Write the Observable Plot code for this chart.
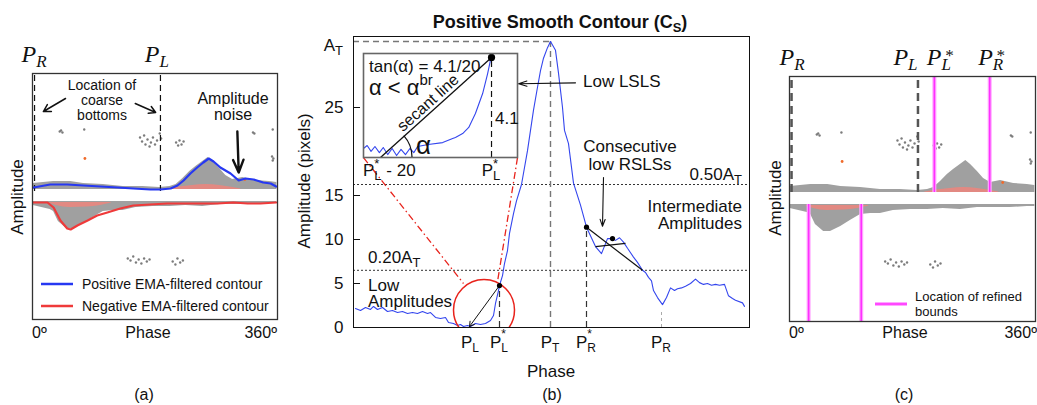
<!DOCTYPE html>
<html><head><meta charset="utf-8">
<script src="https://cdn.jsdelivr.net/npm/d3@7"></script>
<script src="https://cdn.jsdelivr.net/npm/@observablehq/plot@0.6"></script>
<style>
body{margin:0;background:#fff;width:1037px;height:405px;overflow:hidden;position:relative}
.p{position:absolute;top:0}
</style>
</head><body>
<div id="pa" class="p" style="left:0"></div>
<div id="pb" class="p" style="left:290px"></div>
<div id="pc" class="p" style="left:760px"></div>
<div id="pi" class="p" style="left:363px;top:53px"></div>
<script>
const SANS = "'Liberation Sans', Arial, Helvetica, sans-serif";
const SERIF = "'Liberation Serif', 'Times New Roman', serif";

// ---------------- Panels (a) and (c): phase in degrees, amplitude in px units ----------------
const contourPosPhase = [1.5,26,51,75,100,125,148,173,188,203,213,222,232,242,251,259,266,276,291,303,313,325,339,350,358];
const contourPosAmp   = [2,5,5,4,3,2,1,0,0,1,4,9,16,22,27,31,28,22,16,9,11,10,7,6,3];
const contourNegPhase = [1.5,22,31,41,51,56,66,81,95,110,129,148,173,198,222,247,272,295,316,335,358];
const contourNegAmp   = [1,1,6,19,27,28,24,19,14,11,7,4,3,2,2,2,2,1,2,2,1];
const cloudPosPhase = [1,31,56,75,104,133,162,187,202,211,221,231,240,250,258,265,275,284,294,309,328,348,359];
const cloudPosAmp   = [6,8,8,6,5,3,3,2,3,5,11,18,23,28,32,28,21,14,10,12,9,8,7];
const cloudNegPhase = [1,26,31,38,50,60,75,89,104,119,133,152,177,202,225,250,275,299,323,348,359];
const cloudNegAmp   = [4,8,10,20,27,27,22,16,10,9,9,6,5,5,4,5,3,3,3,2,2];
const pinkPosPhase = [198,215,235,255,275,295,306];
const pinkPosAmp   = [0.5,2.5,4,5,4,2,0.5];
const pinkNegPhase = [24,35,55,80,100,116];
const pinkNegAmp   = [1.5,4,6,5.5,4,1.5];
const speckPosPhase = [42,44,40,76,158,161,164,166,169,172,174,177,180,183,187,189,211,214,216,219,222,324,326,353,352,354,353];
const speckPosAmp   = [59,57,58,60,52,48,54,45,50,43,47,52,45,49,56,51,47,44,49,45,48,57,56,60,33,31,29];
const speckNegPhase = [140,144,148,152,156,160,164,168,172,206,210,213,217,221];
const speckNegAmp   = [57,59,55,61,58,62,57,60,58,60,63,57,61,59];
const orangePhase = [77,312];
const orangeAmp   = [31,10];
const coarseBounds = {PR: 3, PL: 188};
const refinedPos = [212, 293];   // P_L*, P_R*
const refinedNeg = [28, 105];

// ---------------- Panel (b): smooth positive contour ----------------
const bPhase = [2,7,12,17,20,24,29,34,39,44,49,54,59,64,69,74,77,82,87,92,95,100,104,107,110,114,117,122,127,132,137,140,142,145,146,149,151,154,156,160,163,168,174,180,184,187,190,194,197,202,205,209,211,215,220,227,233,242,248,254,259,262,266,270,274,280,284,289,292,295,298,300,304,309,313,317,321,324,328,332,337,342,346,350,354,358,362,366,371,375,379,382,389,391];
const bAmp = [2.16,1.93,2.27,2.05,2.39,2.05,2.27,1.82,1.93,1.7,1.82,1.59,1.7,1.59,1.82,1.59,1.7,1.14,1.02,1.14,0.57,0.45,0.23,0.34,0.11,0.23,0.11,0.45,0.34,0.45,0.8,1.36,2.73,4.2,4.77,5.9,7.27,8.75,10.7,12.95,14.4,16.25,20.1,24.7,27.3,29.2,30.6,31.8,32.5,31.5,28.9,25,22.4,20.9,16.4,13.9,11.4,9.2,8.4,10.1,10.1,9.9,10.2,9.7,9.0,8.0,7.4,6.5,6.25,5.7,5.3,4.2,3.4,2.6,3.4,4.5,4.2,4.4,4.5,4.7,5.0,5.5,5.1,4.9,5.0,4.8,4.9,4.8,4.9,3.6,3.3,3.1,2.8,2.4];
const AT = 32.5;
const levelFractions = [0.5, 0.2];
const yTicks = [0, 5, 10, 15, 25];
const keyNames  = ["L", "L*", "T", "R*", "R"];
const keyPhases = [117, 146, 197, 233, 308];
const PLsAmp = 4.77, PRsAmp = 11.4;
const rslsPoint = {x: 259, y: 10.1};
const lowCircle = {x: 130.5, y: 1.99};

// ---------------- Inset: last 20 samples before P_L* ----------------
const insetOffset = [-23.06,-22.4,-21.7,-21.0,-20.2,-19.5,-18.7,-17.9,-17.1,-16.3,-15.5,-14.7,-14.0,-13.3,-11.4,-8.8,-7.0,-6.5,-5.2,-4.1,-2.9,-1.6,-0.7,-0.2,0];
const insetAmp    = [0.37,0.49,0.25,0.45,0.2,0.41,0.12,0.37,0.08,0.33,0.12,0.37,0.2,0.45,0.53,0.61,0.78,0.82,0.98,1.23,1.8,2.62,3.44,3.98,4.1];
const secantRun = 20, secantRise = 4.1;

// ---------- helpers ----------
const zip = (xs, ys) => xs.map((x, i) => ({x, y: ys[i]}));
function rich(svg, x, y, parts, o = {}) {
  const size = o.size ?? 17;
  const subSize = o.subSize ?? Math.round(size * 0.72);
  const g = d3.select(svg).append("g")
    .attr("font-family", o.family ?? SANS).attr("font-size", size)
    .attr("font-style", o.italic ? "italic" : "normal")
    .attr("font-weight", o.bold ? "bold" : "normal")
    .attr("text-anchor", "start")
    .attr("fill", o.fill ?? "#111");
  let cx = 0;
  for (const p of [].concat(parts)) {
    if (typeof p === "string") {
      const t = g.append("text").attr("x", cx).attr("y", 0).style("white-space", "pre").text(p);
      cx += t.node().getComputedTextLength();
    } else {
      let w = 0;
      if (p.sub != null) {
        const t = g.append("text").attr("x", cx).attr("y", o.subDy ?? size * 0.3).attr("font-size", subSize).text(p.sub);
        w = Math.max(w, t.node().getComputedTextLength());
      }
      if (p.sup != null) {
        const dx = o.supDx ?? 0;
        const t = g.append("text").attr("x", cx + dx).attr("y", -(o.supRise ?? size * 0.42)).attr("font-size", o.supSize ?? subSize).text(p.sup);
        w = Math.max(w, t.node().getComputedTextLength() + dx);
      }
      cx += w;
    }
  }
  const shift = o.anchor === "middle" ? -cx / 2 : o.anchor === "end" ? -cx : 0;
  g.attr("transform", `translate(${x},${y}) rotate(${o.rotate ?? 0}) translate(${shift},0)`);
  return g;
}
function hline(svg, x1, x2, y, color, w) {
  d3.select(svg).append("line").attr("x1", x1).attr("x2", x2).attr("y1", y).attr("y2", y)
    .attr("stroke", color).attr("stroke-width", w);
}

const gap = 12; // visual gap between the positive and negative halves
const cloudPos = zip(cloudPosPhase, cloudPosAmp);
const cloudNeg = zip(cloudNegPhase, cloudNegAmp);
const pinkPos = zip(pinkPosPhase, pinkPosAmp);
const pinkNeg = zip(pinkNegPhase, pinkNegAmp);
const speckPos = zip(speckPosPhase, speckPosAmp);
const speckNeg = zip(speckNegPhase, speckNegAmp);
const orange = zip(orangePhase, orangeAmp);
const GREY = "#a0a0a0", PINK = "#f3837a";
function cloudMarks() {
  return [
    Plot.areaY(cloudPos, {x: "x", y1: 0, y2: "y", fill: GREY}),
    Plot.areaY(cloudNeg, {x: "x", y1: -gap, y2: d => -gap - d.y, fill: GREY}),
    Plot.areaY(pinkPos, {x: "x", y1: 0, y2: "y", fill: PINK, fillOpacity: 0.8, curve: "monotone-x"}),
    Plot.areaY(pinkNeg, {x: "x", y1: -gap - 1, y2: d => -gap - d.y, fill: PINK, fillOpacity: 0.8, curve: "monotone-x"}),
    Plot.dot(speckPos, {x: "x", y: "y", r: 1.2, fill: "#7c7c7c"}),
    Plot.dot(speckNeg, {x: "x", y: d => -gap - d.y, r: 1.2, fill: "#7c7c7c"}),
    Plot.dot(orange, {x: "x", y: "y", r: 1.4, fill: "#f06a2a"})
  ];
}
const baseStyle = {background: "transparent", overflow: "visible", fontFamily: SANS};

// ================= Panel (a) =================
const svgA = Plot.plot({
  width: 290, height: 405, marginLeft: 32, marginRight: 13, marginTop: 73, marginBottom: 86,
  style: baseStyle,
  x: {domain: [0, 360], axis: null}, y: {domain: [-130, 116], axis: null},
  marks: [
    ...cloudMarks(),
    Plot.ruleX([coarseBounds.PR, coarseBounds.PL], {y1: -2, y2: 116, stroke: "#111", strokeWidth: 1.2, strokeDasharray: "6,4"}),
    Plot.line(zip(contourPosPhase, contourPosAmp), {x: "x", y: "y", stroke: "#2638f2", strokeWidth: 2.2}),
    Plot.line(zip(contourNegPhase, contourNegAmp), {x: "x", y: d => -gap - d.y, stroke: "#ef3a3a", strokeWidth: 2.2}),
    Plot.frame({stroke: "#333", strokeWidth: 1.3}),
    Plot.arrow([{x1: 48.5, y1: 91, x2: 16, y2: 78}, {x1: 151, y1: 86, x2: 181, y2: 77}],
      {x1: "x1", y1: "y1", x2: "x2", y2: "y2", stroke: "#111", strokeWidth: 1.5, headLength: 8}),
    Plot.arrow([{x1: 301, y1: 58, x2: 303, y2: 17}],
      {x1: "x1", y1: "y1", x2: "x2", y2: "y2", stroke: "#111", strokeWidth: 2.4, headLength: 13, headAngle: 45})
  ]
});
document.getElementById("pa").append(svgA);
{
  const sx = svgA.scale("x");
  const pOpt = {family: SERIF, italic: true, size: 24, subSize: 17, subDy: 5, anchor: "middle"};
  rich(svgA, sx.apply(coarseBounds.PR), 62, ["P", {sub: "R"}], pOpt);
  rich(svgA, sx.apply(coarseBounds.PL) - 3, 62, ["P", {sub: "L"}], pOpt);
  rich(svgA, 102, 90, "Location of", {size: 14, anchor: "middle"});
  rich(svgA, 102, 105, "coarse", {size: 14, anchor: "middle"});
  rich(svgA, 102, 120, "bottoms", {size: 14, anchor: "middle"});
  rich(svgA, 233, 104, "Amplitude", {size: 16, anchor: "middle"});
  rich(svgA, 233, 120, "noise", {size: 16, anchor: "middle"});
  hline(svgA, 41, 73, 284, "#2638f2", 2.5);
  hline(svgA, 41, 73, 306, "#ef3a3a", 2.5);
  rich(svgA, 82, 289, "Positive EMA-filtered contour", {size: 14});
  rich(svgA, 82, 311, "Negative EMA-filtered contour", {size: 14});
  rich(svgA, 32, 338, "0º", {size: 16});
  rich(svgA, 148, 338, "Phase", {size: 16, anchor: "middle"});
  rich(svgA, 277, 338, "360º", {size: 16, anchor: "end"});
  rich(svgA, 23, 197, "Amplitude", {size: 17, anchor: "middle", rotate: -90});
  rich(svgA, 144, 400, "(a)", {size: 16, anchor: "middle"});
}

// ================= Panel (c) =================
const svgC = Plot.plot({
  width: 277, height: 405, marginLeft: 29, marginRight: 2, marginTop: 76, marginBottom: 84,
  style: baseStyle,
  x: {domain: [0, 360], axis: null}, y: {domain: [-129, 116], axis: null},
  marks: [
    ...cloudMarks(),
    Plot.ruleX([coarseBounds.PR, coarseBounds.PL], {y1: 0, y2: 116, stroke: "#555", strokeWidth: 2.5, strokeDasharray: "8,5"}),
    Plot.ruleX(refinedPos, {y1: 0, y2: 116, stroke: "#ffa6ff", strokeWidth: 4}),
    Plot.ruleX(refinedPos, {y1: 0, y2: 116, stroke: "#ff30ff", strokeWidth: 1.6}),
    Plot.ruleX(refinedNeg, {y1: -gap, y2: -129, stroke: "#ffa6ff", strokeWidth: 4}),
    Plot.ruleX(refinedNeg, {y1: -gap, y2: -129, stroke: "#ff30ff", strokeWidth: 1.6}),
    Plot.frame({stroke: "#333", strokeWidth: 1.3})
  ]
});
document.getElementById("pc").append(svgC);
{
  const sx = svgC.scale("x");
  const pOpt = {family: SERIF, italic: true, size: 24, subSize: 17, subDy: 5, anchor: "middle", supSize: 17, supRise: 4, supDx: 3};
  rich(svgC, sx.apply(coarseBounds.PR) + 1, 65, ["P", {sub: "R"}], pOpt);
  rich(svgC, sx.apply(coarseBounds.PL) - 12, 65, ["P", {sub: "L"}], pOpt);
  rich(svgC, sx.apply(refinedPos[0]) + 6, 65, ["P", {sub: "L", sup: "*"}], pOpt);
  rich(svgC, sx.apply(refinedPos[1]) + 2, 65, ["P", {sub: "R", sup: "*"}], pOpt);
  d3.select(svgC).append("line").attr("x1", 115).attr("x2", 147).attr("y1", 304).attr("y2", 304).attr("stroke", "#ffa6ff").attr("stroke-width", 4);
  hline(svgC, 115, 147, 304, "#ff30ff", 1.6);
  rich(svgC, 155, 301, "Location of refined", {size: 13});
  rich(svgC, 155, 316, "bounds", {size: 13});
  rich(svgC, 29, 338, "0º", {size: 16});
  rich(svgC, 145, 338, "Phase", {size: 16, anchor: "middle"});
  rich(svgC, 277, 338, "360º", {size: 16, anchor: "end"});
  rich(svgC, 21, 198, "Amplitude", {size: 17, anchor: "middle", rotate: -90});
  rich(svgC, 144, 400, "(c)", {size: 16, anchor: "middle"});
}

// ================= Panel (b) =================
const bData = zip(bPhase, bAmp);
const [PL, PLs, PT, PRs, PR] = keyPhases;
const svgB = Plot.plot({
  width: 470, height: 405, marginLeft: 63, marginRight: 11, marginTop: 36, marginBottom: 78,
  style: baseStyle,
  x: {domain: [0, 396], axis: null}, y: {domain: [0, 33.07], axis: null},
  marks: [
    Plot.ruleY(levelFractions.map(f => f * AT), {stroke: "#333", strokeWidth: 1, strokeDasharray: "2,2"}),
    Plot.ruleX([PT], {y1: 0, y2: AT, stroke: "#777", strokeWidth: 1.4, strokeDasharray: "6,4"}),
    Plot.ruleY([AT], {x1: 0, x2: PT, stroke: "#777", strokeWidth: 1.4, strokeDasharray: "6,4"}),
    Plot.ruleX([PLs], {y1: 0, y2: PLsAmp, stroke: "#333", strokeWidth: 1.2, strokeDasharray: "6,4"}),
    Plot.ruleX([PRs], {y1: 0, y2: PRsAmp, stroke: "#333", strokeWidth: 1.2, strokeDasharray: "6,4"}),
    Plot.ruleX([PR], {y1: 0, y2: 2, stroke: "#aaa", strokeWidth: 1, strokeDasharray: "3,3"}),
    Plot.ruleY(yTicks, {x1: 0, x2: 7, stroke: "#111"}),
    Plot.text(yTicks, {y: d => d, text: d => String(d), frameAnchor: "left", textAnchor: "end", dx: -10, fontSize: 17, fill: "#111"}),
    Plot.line(bData, {x: "x", y: "y", stroke: "#3446ee", strokeWidth: 1.1}),
    Plot.dot([lowCircle], {x: "x", y: "y", r: 30.5, stroke: "#e8231c", strokeWidth: 1.5, fill: "none", clip: "frame"}),
    Plot.link([{x1: 10, y1: 19.3, x2: 110, y2: 5.0}, {x1: 164, y1: 19.3, x2: 144, y2: 5.2}],
      {x1: "x1", y1: "y1", x2: "x2", y2: "y2", stroke: "#e8231c", strokeWidth: 1.3, strokeDasharray: "7,3,1.5,3"}),
    Plot.arrow([{x1: PLs, y1: PLsAmp, x2: PL - 1, y2: 0.11}], {x1: "x1", y1: "y1", x2: "x2", y2: "y2", stroke: "#111", strokeWidth: 1, headLength: 8}),
    Plot.link([{x1: PRs, y1: PRsAmp, x2: 289, y2: 0.2 * AT}, {x1: 242, y1: 9.2, x2: 272, y2: 9.55}],
      {x1: "x1", y1: "y1", x2: "x2", y2: "y2", stroke: "#111", strokeWidth: 1.2}),
    Plot.dot([{x: PLs, y: PLsAmp}, {x: PRs, y: PRsAmp}, rslsPoint], {x: "x", y: "y", r: 2.6, fill: "#000"}),
    Plot.arrow([{x1: 222, y1: 27.8, x2: 165, y2: 27.7}], {x1: "x1", y1: "y1", x2: "x2", y2: "y2", stroke: "#111", strokeWidth: 1.1, headLength: 12, headAngle: 35}),
    Plot.arrow([{x1: 250, y1: 17.05, x2: 249, y2: 11.5}], {x1: "x1", y1: "y1", x2: "x2", y2: "y2", stroke: "#111", strokeWidth: 1.1, headLength: 10, headAngle: 40}),
    Plot.frame({stroke: "#111", strokeWidth: 1})
  ]
});
document.getElementById("pb").append(svgB);
{
  const sx = svgB.scale("x"), sy = svgB.scale("y");
  rich(svgB, 270, 28, ["Positive Smooth Contour (C", {sub: "S"}, ")"], {size: 18, bold: true, anchor: "middle", subSize: 13, subDy: 4});
  rich(svgB, 53, sy.apply(AT) + 10, ["A", {sub: "T"}], {size: 17, subSize: 13, subDy: 4, anchor: "end"});
  rich(svgB, 452, 180, ["0.50A", {sub: "T"}], {size: 17, subSize: 13, subDy: 4, anchor: "end"});
  rich(svgB, 78, 263, ["0.20A", {sub: "T"}], {size: 17, subSize: 13, subDy: 4});
  rich(svgB, 78, 291, "Low", {size: 17});
  rich(svgB, 78, 307, "Amplitudes", {size: 17});
  rich(svgB, 452, 212, "Intermediate", {size: 17, anchor: "end"});
  rich(svgB, 452, 229, "Amplitudes", {size: 17, anchor: "end"});
  rich(svgB, 293, 87, "Low LSLS", {size: 17});
  rich(svgB, 340, 152, "Consecutive", {size: 17, anchor: "middle"});
  rich(svgB, 340, 170, "low RSLSs", {size: 17, anchor: "middle"});
  const tOpt = {size: 17, subSize: 12, subDy: 4, supSize: 12, supRise: 10, anchor: "middle"};
  keyNames.forEach((n, i) => {
    const star = n.endsWith("*");
    rich(svgB, sx.apply(keyPhases[i]), 348, ["P", star ? {sub: n[0], sup: "*"} : {sub: n}], tOpt);
  });
  rich(svgB, 261, 377, "Phase", {size: 17, anchor: "middle"});
  rich(svgB, 262, 400, "(b)", {size: 16, anchor: "middle"});
  rich(svgB, 20, 181, "Amplitude (pixels)", {size: 17, anchor: "middle", rotate: -90});
  // labels under the inset
  rich(svgB, 73, 176, ["P", {sub: "L", sup: "*"}, " - 20"], {size: 17, subSize: 13, subDy: 4, supSize: 13, supRise: 8});
  rich(svgB, 201, 176, ["P", {sub: "L", sup: "*"}], {size: 17, subSize: 13, subDy: 4, supSize: 13, supRise: 8, anchor: "middle"});
}

// ================= Inset =================
const svgI = Plot.plot({
  width: 154, height: 104, margin: 0,
  style: {background: "#fff", overflow: "visible", fontFamily: SANS},
  x: {domain: [-23.06, 4.68], axis: null}, y: {domain: [0, 4.26], axis: null},
  marks: [
    Plot.line(zip(insetOffset, insetAmp), {x: "x", y: "y", stroke: "#3446ee", strokeWidth: 1.1}),
    Plot.ruleX([0], {y1: 0, y2: secantRise, stroke: "#111", strokeWidth: 1.2, strokeDasharray: "6,4"}),
    Plot.link([{x1: -secantRun, y1: 0, x2: 0, y2: secantRise}], {x1: "x1", y1: "y1", x2: "x2", y2: "y2", stroke: "#111", strokeWidth: 1.3}),
    Plot.dot([{x: 0, y: secantRise}], {x: "x", y: "y", r: 3.6, fill: "#000"}),
    Plot.frame({stroke: "#666", strokeWidth: 1.6})
  ]
});
document.getElementById("pi").append(svgI);
{
  const sx = svgI.scale("x"), sy = svgI.scale("y");
  const x0 = sx.apply(-secantRun), y0 = sy.apply(0), x1 = sx.apply(0), y1 = sy.apply(secantRise);
  const ang = Math.atan2(y1 - y0, x1 - x0);
  const r = 32;
  d3.select(svgI).append("path")
    .attr("d", `M${x0 + r},${y0}A${r},${r} 0 0 0 ${x0 + r * Math.cos(ang)},${y0 + r * Math.sin(ang)}`)
    .attr("fill", "none").attr("stroke", "#111").attr("stroke-width", 1.2);
  rich(svgI, 6, 19, "tan(α) = 4.1/20", {size: 17});
  rich(svgI, 6, 42, ["α < α", {sup: "br"}], {size: 22, supSize: 15, supRise: 10});
  const mx = (x0 + x1) / 2 + 3 * Math.sin(ang) - 2, my = (y0 + y1) / 2 - 3 * Math.cos(ang) + 2;
  rich(svgI, mx, my, "secant line", {size: 16, anchor: "middle", rotate: ang * 180 / Math.PI});
  rich(svgI, 53, 101, "α", {size: 26});
  rich(svgI, 132, 71, "4.1", {size: 17});
}
</script>
</body></html>
